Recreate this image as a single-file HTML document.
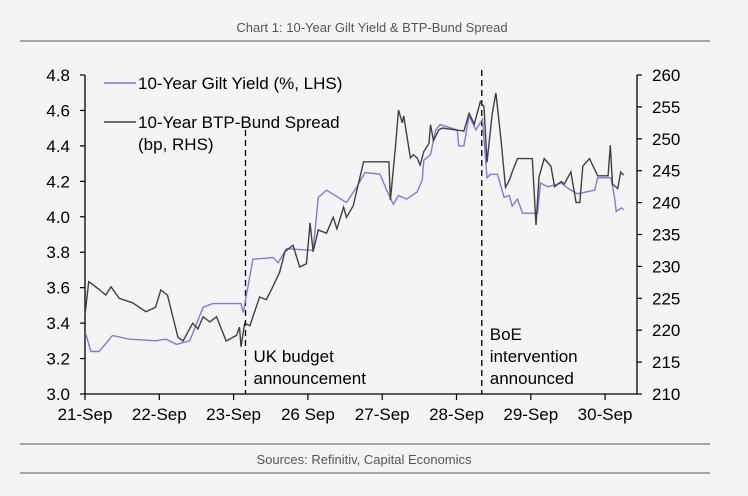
<!DOCTYPE html>
<html><head><meta charset="utf-8">
<style>
html,body{margin:0;padding:0;background:#f4f4f5;}
body{width:748px;height:491px;overflow:hidden;font-family:"Liberation Sans",Arial,sans-serif;}
svg text{font-family:"Liberation Sans",Arial,sans-serif;}
</style></head>
<body>
<svg id="chart" width="748" height="491" viewBox="0 0 748 491" xmlns="http://www.w3.org/2000/svg">
<rect x="0" y="0" width="748" height="491" fill="#f4f4f5"/>
<text x="372" y="32" text-anchor="middle" font-size="13" fill="#555">Chart 1: 10-Year Gilt Yield &amp; BTP-Bund Spread</text>
<line x1="20" y1="41" x2="710" y2="41" stroke="#777" stroke-width="1.2"/>
<line x1="20" y1="444" x2="710" y2="444" stroke="#777" stroke-width="1.2"/>
<line x1="20" y1="473" x2="710" y2="473" stroke="#777" stroke-width="1.2"/>
<text x="364" y="464" text-anchor="middle" font-size="13" fill="#555">Sources: Refinitiv, Capital Economics</text>
<g id="axes"></g>
<g id="marks"></g>
</svg>
<script>
const xLabels = ["21-Sep","22-Sep","23-Sep","26 Sep","27-Sep","28-Sep","29-Sep","30-Sep"];
const leftTicks = [3.0,3.2,3.4,3.6,3.8,4.0,4.2,4.4,4.6,4.8];
const rightTicks = [210,215,220,225,230,235,240,245,250,255,260];
const giltX = [0,0.01,0.08,0.19,0.37,0.59,0.95,1.09,1.23,1.41,1.59,1.72,2.1,2.13,2.26,2.53,2.6,2.71,3.07,3.14,3.25,3.52,3.66,3.77,3.97,4.06,4.15,4.22,4.33,4.47,4.54,4.56,4.65,4.72,4.78,5.01,5.03,5.1,5.17,5.26,5.35,5.41,5.46,5.55,5.64,5.71,5.75,5.82,5.89,6.09,6.13,6.23,6.32,6.41,6.5,6.63,6.86,6.9,7.08,7.13,7.15,7.22,7.25];
const giltY = [3.34,3.34,3.24,3.24,3.33,3.31,3.30,3.31,3.28,3.30,3.49,3.51,3.51,3.46,3.76,3.77,3.74,3.82,3.81,4.11,4.15,4.08,4.17,4.25,4.24,4.15,4.07,4.12,4.10,4.14,4.21,4.32,4.35,4.49,4.52,4.49,4.40,4.40,4.57,4.49,4.55,4.22,4.24,4.24,4.11,4.12,4.06,4.10,4.02,4.02,4.19,4.17,4.18,4.19,4.16,4.13,4.15,4.22,4.22,4.10,4.03,4.05,4.04];
const spreadX = [0,0.05,0.19,0.28,0.35,0.46,0.64,0.82,0.95,1.02,1.11,1.25,1.32,1.45,1.52,1.59,1.68,1.77,1.9,2.04,2.08,2.1,2.15,2.22,2.35,2.44,2.51,2.62,2.69,2.8,2.89,2.98,3.03,3.07,3.14,3.25,3.34,3.39,3.48,3.52,3.61,3.75,4.09,4.11,4.18,4.22,4.27,4.29,4.38,4.42,4.47,4.51,4.56,4.63,4.65,4.69,4.76,4.81,4.92,5.1,5.17,5.24,5.32,5.37,5.41,5.48,5.53,5.6,5.66,5.71,5.75,5.82,6.02,6.07,6.11,6.18,6.27,6.32,6.41,6.45,6.54,6.61,6.66,6.7,6.79,6.9,7.04,7.07,7.1,7.17,7.21,7.25];
const spreadY = [222.4,227.6,226.4,225.5,226.8,225.0,224.3,222.9,223.6,226.3,225.5,218.9,218.3,221.1,220.2,222.1,221.3,222.1,218.3,219.2,220.5,217.4,221.1,220.7,225.2,224.8,226.4,229.1,232.3,233.3,229.9,230.4,236.8,232.3,235.7,235.2,237.7,235.9,239.3,237.7,239.5,246.4,246.4,240.4,249.0,254.5,252.5,253.6,247.0,247.5,247.0,245.9,248.0,249.3,252.2,249.7,251.4,251.7,251.5,251.2,254.0,252.3,255.8,255.0,246.3,253.9,257.2,249.7,242.4,243.5,244.8,246.9,246.9,236.5,244.0,246.9,245.7,242.5,243.3,242.9,244.8,240.0,240.0,245.7,246.9,244.2,244.2,249.0,242.9,242.2,244.8,244.3];
const events = [{x:2.16,top:130,label:["UK budget","announcement"]},{x:5.34,top:70,label:["BoE","intervention","announced"]}];

const X0=85, DX=74.3, XEND=637, YT=75, YB=394;
const xs = i => X0 + i*DX;
const yl = v => YB - (v-3.0)/1.8*(YB-YT);
const yr = v => YB - (v-210)/50*(YB-YT);
const NS="http://www.w3.org/2000/svg";
const axes=document.getElementById('axes'), marks=document.getElementById('marks');
function mk(tag, attrs, parent){const e=document.createElementNS(NS,tag);for(const k in attrs)e.setAttribute(k,attrs[k]);parent.appendChild(e);return e;}

let e;
e=mk('line',{x1:X0,y1:YT,x2:X0,y2:YB,stroke:'#000','stroke-width':1.3},axes);


e=mk('line',{x1:XEND,y1:YT,x2:XEND,y2:YB,stroke:'#000','stroke-width':1.3},axes);


e=mk('line',{x1:X0,y1:YB,x2:XEND,y2:YB,stroke:'#000','stroke-width':1.3},axes);



leftTicks.forEach(v=>{
  const y=yl(v);
  const t=mk('line',{x1:X0-5,y1:y,x2:X0,y2:y,stroke:'#000','stroke-width':1.2},axes);
  
  
  const l=mk('text',{x:X0-15,y:y+6,'text-anchor':'end','font-size':17,fill:'#000'},axes);
  l.textContent=v.toFixed(1);
  
  
});
rightTicks.forEach(v=>{
  const y=yr(v);
  const t=mk('line',{x1:XEND,y1:y,x2:XEND+5,y2:y,stroke:'#000','stroke-width':1.2},axes);
  
  
  const l=mk('text',{x:XEND+15,y:y+6,'text-anchor':'start','font-size':17,fill:'#000'},axes);
  l.textContent=v;
  
  
});
xLabels.forEach((s,i)=>{
  const x=xs(i);
  const t=mk('line',{x1:x,y1:YB,x2:x,y2:YB+6,stroke:'#000','stroke-width':1.2},axes);
  
  
  const l=mk('text',{x:x,y:420,'text-anchor':'middle','font-size':17,fill:'#000'},axes);
  l.textContent=s;
  
  
});

events.forEach(ev=>{
  const x=xs(ev.x);
  const d=mk('line',{x1:x,y1:ev.top,x2:x,y2:YB,stroke:'#000','stroke-width':1.3,'stroke-dasharray':'6,4'},marks);
  
  
  ev.label.forEach((s,k)=>{
    const t=mk('text',{x:x+8,y:384-(ev.label.length-1-k)*22,'font-size':17,fill:'#000'},marks);
    t.textContent=s;
    
    
  });
});

const gp=mk('polyline',{points:giltX.map((v,i)=>xs(v).toFixed(1)+','+yl(giltY[i]).toFixed(1)).join(' '),fill:'none',stroke:'#7b7be6','stroke-width':1.4},marks);


const sp=mk('polyline',{points:spreadX.map((v,i)=>xs(v).toFixed(1)+','+yr(spreadY[i]).toFixed(1)).join(' '),fill:'none',stroke:'#404040','stroke-width':1.4},marks);



// legend
const lg=mk('g',{},marks);


e=mk('line',{x1:104,y1:83,x2:136,y2:83,stroke:'#7b7be6','stroke-width':1.6},lg);


e=mk('text',{x:138,y:89,'font-size':17,fill:'#000'},lg);
e.textContent='10-Year Gilt Yield (%, LHS)';


e=mk('line',{x1:104,y1:122,x2:136,y2:122,stroke:'#404040','stroke-width':1.6},lg);


e=mk('text',{x:138,y:128,'font-size':17,fill:'#000'},lg);
e.textContent='10-Year BTP-Bund Spread';


e=mk('text',{x:138,y:150,'font-size':17,fill:'#000'},lg);
e.textContent='(bp, RHS)';


</script>
</body></html>
